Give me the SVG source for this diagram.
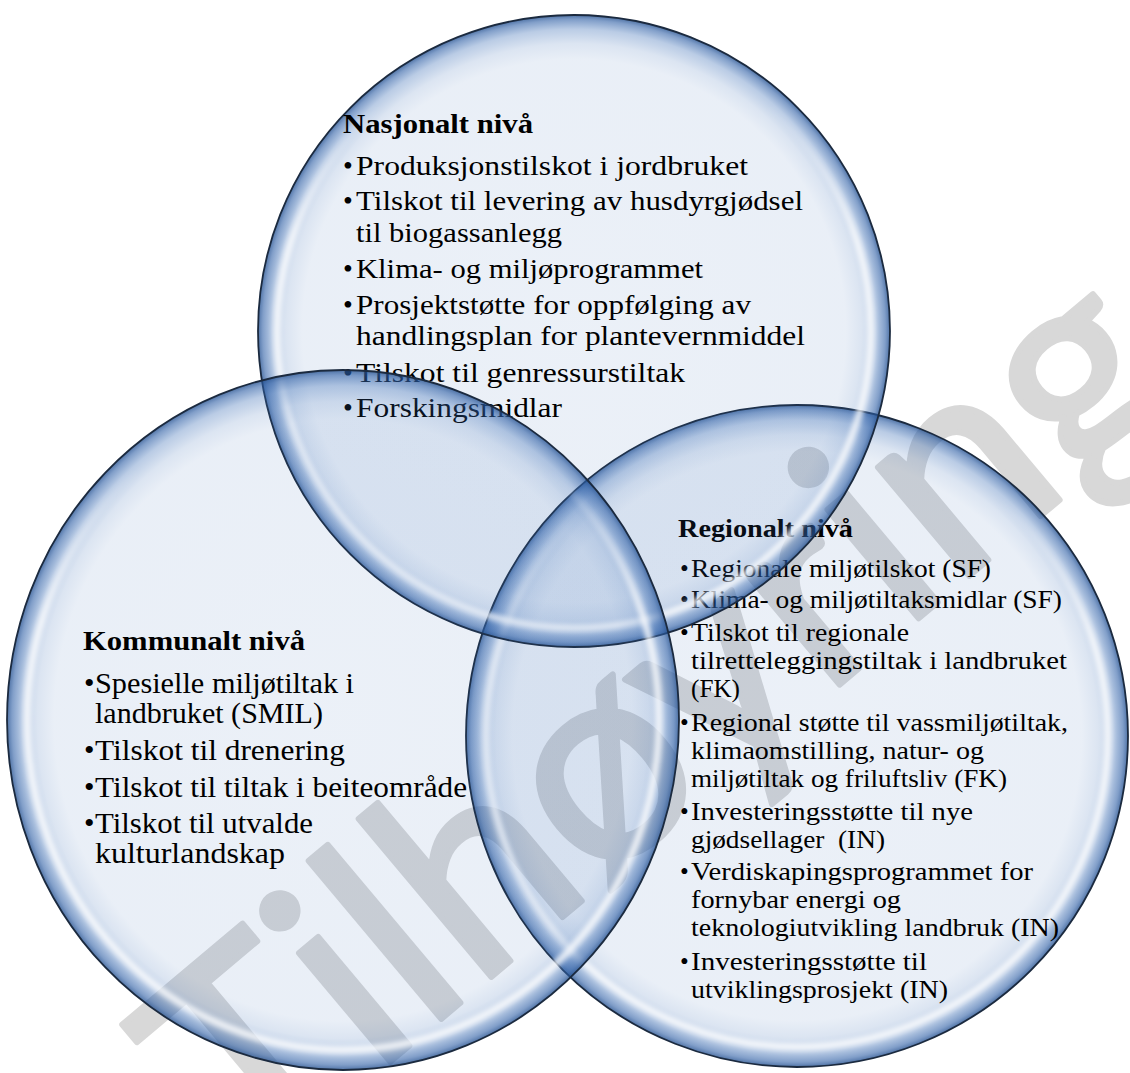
<svg xmlns="http://www.w3.org/2000/svg" width="1130" height="1073" viewBox="0 0 1130 1073">
<defs>
<style>
.t{font-family:"Liberation Serif","Times New Roman",serif;fill:#000}
.b{font-weight:bold}
.s28{font-size:28px}
.s30{font-size:30px}
.s25{font-size:25px}
.wm{font-family:Lato,"Open Sans",sans-serif;font-size:280px;fill:#d8d8d8;stroke:#d8d8d8;stroke-width:6;stroke-linejoin:round}
.disc{fill:url(#bub);stroke:#1b2a3f;stroke-width:1.8}
.hl{fill:none;stroke:url(#hl);stroke-width:7;filter:url(#soft)}
</style>
<radialGradient id="bub" cx="50%" cy="50%" r="50%">
<stop offset="0" stop-color="#3a6db5" stop-opacity="0.10"/>
<stop offset="0.86" stop-color="#3a6db5" stop-opacity="0.11"/>
<stop offset="0.91" stop-color="#3a6db5" stop-opacity="0.18"/>
<stop offset="0.955" stop-color="#3a6db5" stop-opacity="0.35"/>
<stop offset="0.985" stop-color="#2d5ea5" stop-opacity="0.6"/>
<stop offset="1" stop-color="#24508f" stop-opacity="0.8"/>
</radialGradient>
<linearGradient id="hl" x1="0" y1="0" x2="0" y2="1">
<stop offset="0" stop-color="#fff" stop-opacity="0"/>
<stop offset="0.12" stop-color="#fff" stop-opacity="0"/>
<stop offset="0.35" stop-color="#fff" stop-opacity="0.8"/>
<stop offset="1" stop-color="#fff" stop-opacity="0.8"/>
</linearGradient>
<filter id="soft" x="-10%" y="-10%" width="120%" height="120%"><feGaussianBlur stdDeviation="2.5"/></filter>
</defs>
<rect width="1130" height="1073" fill="#fff"/>
<g id="watermark">
<text class="wm" transform="translate(248,1181) rotate(-40)">Tilhøyring</text>
</g>
<g id="connectors"/>
<g id="node-regional">
<circle class="disc" cx="797" cy="736" r="331"/>
<circle class="hl" cx="797" cy="736" r="311"/>
<text class="t s25 b" x="678" y="537" textLength="175" lengthAdjust="spacingAndGlyphs">Regionalt nivå</text>
<text class="t s25" y="577"><tspan x="680">•</tspan><tspan x="691" textLength="300" lengthAdjust="spacingAndGlyphs">Regionale miljøtilskot (SF)</tspan></text>
<text class="t s25" y="608"><tspan x="680">•</tspan><tspan x="691" textLength="371" lengthAdjust="spacingAndGlyphs">Klima- og miljøtiltaksmidlar (SF)</tspan></text>
<text class="t s25" y="641"><tspan x="680">•</tspan><tspan x="691" textLength="218" lengthAdjust="spacingAndGlyphs">Tilskot til regionale</tspan></text>
<text class="t s25" x="691" y="669" textLength="376" lengthAdjust="spacingAndGlyphs">tilretteleggingstiltak i landbruket</text>
<text class="t s25" x="691" y="697" textLength="49" lengthAdjust="spacingAndGlyphs">(FK)</text>
<text class="t s25" y="731"><tspan x="680">•</tspan><tspan x="691" textLength="377" lengthAdjust="spacingAndGlyphs">Regional støtte til vassmiljøtiltak,</tspan></text>
<text class="t s25" x="691" y="759" textLength="293" lengthAdjust="spacingAndGlyphs">klimaomstilling, natur- og</text>
<text class="t s25" x="691" y="787" textLength="316" lengthAdjust="spacingAndGlyphs">miljøtiltak og friluftsliv (FK)</text>
<text class="t s25" y="820"><tspan x="680">•</tspan><tspan x="691" textLength="282" lengthAdjust="spacingAndGlyphs">Investeringsstøtte til nye</tspan></text>
<text class="t s25" x="691" y="848" textLength="194" lengthAdjust="spacingAndGlyphs" xml:space="preserve">gjødsellager  (IN)</text>
<text class="t s25" y="880"><tspan x="680">•</tspan><tspan x="691" textLength="342" lengthAdjust="spacingAndGlyphs">Verdiskapingsprogrammet for</tspan></text>
<text class="t s25" x="691" y="908" textLength="210" lengthAdjust="spacingAndGlyphs">fornybar energi og</text>
<text class="t s25" x="691" y="936" textLength="368" lengthAdjust="spacingAndGlyphs">teknologiutvikling landbruk (IN)</text>
<text class="t s25" y="970"><tspan x="680">•</tspan><tspan x="691" textLength="236" lengthAdjust="spacingAndGlyphs">Investeringsstøtte til</tspan></text>
<text class="t s25" x="691" y="998" textLength="257" lengthAdjust="spacingAndGlyphs">utviklingsprosjekt (IN)</text>
</g>
<g id="node-nasjonal">
<circle class="disc" cx="574" cy="331" r="316"/>
<circle class="hl" cx="574" cy="331" r="297"/>
<text class="t s28 b" x="343" y="133" textLength="190" lengthAdjust="spacingAndGlyphs">Nasjonalt nivå</text>
<text class="t s28" y="175"><tspan x="343">•</tspan><tspan x="356" textLength="392" lengthAdjust="spacingAndGlyphs">Produksjonstilskot i jordbruket</tspan></text>
<text class="t s28" y="210"><tspan x="343">•</tspan><tspan x="356" textLength="447" lengthAdjust="spacingAndGlyphs">Tilskot til levering av husdyrgjødsel</tspan></text>
<text class="t s28" x="356" y="242" textLength="206" lengthAdjust="spacingAndGlyphs">til biogassanlegg</text>
<text class="t s28" y="278"><tspan x="343">•</tspan><tspan x="356" textLength="347" lengthAdjust="spacingAndGlyphs">Klima- og miljøprogrammet</tspan></text>
<text class="t s28" y="314"><tspan x="343">•</tspan><tspan x="356" textLength="395" lengthAdjust="spacingAndGlyphs">Prosjektstøtte for oppfølging av</tspan></text>
<text class="t s28" x="356" y="345" textLength="449" lengthAdjust="spacingAndGlyphs">handlingsplan for plantevernmiddel</text>
<text class="t s28" y="382"><tspan x="343">•</tspan><tspan x="356" textLength="329" lengthAdjust="spacingAndGlyphs">Tilskot til genressurstiltak</tspan></text>
<text class="t s28" y="417"><tspan x="343">•</tspan><tspan x="356" textLength="206" lengthAdjust="spacingAndGlyphs">Forskingsmidlar</tspan></text>
</g>
<g id="node-kommunal">
<ellipse class="disc" cx="343" cy="720" rx="336" ry="350"/>
<ellipse class="hl" cx="343" cy="720" rx="316" ry="330"/>
<text class="t s28 b" x="83" y="650" textLength="222" lengthAdjust="spacingAndGlyphs">Kommunalt nivå</text>
<text class="t s30" y="693"><tspan x="84">•</tspan><tspan x="95" textLength="259" lengthAdjust="spacingAndGlyphs">Spesielle miljøtiltak i</tspan></text>
<text class="t s30" x="95" y="723" textLength="228" lengthAdjust="spacingAndGlyphs">landbruket (SMIL)</text>
<text class="t s30" y="760"><tspan x="84">•</tspan><tspan x="95" textLength="250" lengthAdjust="spacingAndGlyphs">Tilskot til drenering</tspan></text>
<text class="t s30" y="797"><tspan x="84">•</tspan><tspan x="95" textLength="372" lengthAdjust="spacingAndGlyphs">Tilskot til tiltak i beiteområde</tspan></text>
<text class="t s30" y="833"><tspan x="84">•</tspan><tspan x="95" textLength="218" lengthAdjust="spacingAndGlyphs">Tilskot til utvalde</tspan></text>
<text class="t s30" x="95" y="863" textLength="190" lengthAdjust="spacingAndGlyphs">kulturlandskap</text>
</g>
</svg>
